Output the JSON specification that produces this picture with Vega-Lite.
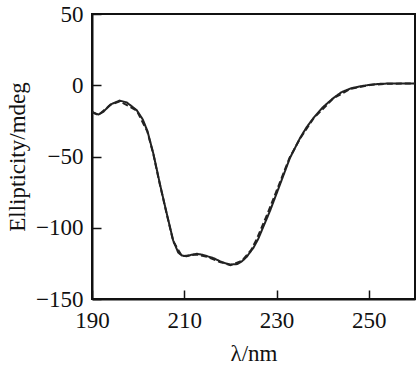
{
  "$schema": "https://vega.github.io/schema/vega-lite/v6.json",
  "autosize": {"type": "none"},
  "padding": {"left": 92, "top": 14, "right": 3, "bottom": 71},
  "width": 323,
  "height": 285,
  "background": "white",
  "config": {
    "view": {"stroke": "#111", "strokeWidth": 2},
    "axis": {
      "grid": false,
      "domainColor": "#111",
      "domainWidth": 2,
      "tickColor": "#111",
      "tickWidth": 1.5,
      "tickSize": -9,
      "labelFont": "Liberation Serif",
      "labelFontSize": 23,
      "labelColor": "#111",
      "titleFont": "Liberation Serif",
      "titleFontSize": 23,
      "titleFontWeight": "normal",
      "titleColor": "#111"
    }
  },
  "data": {
    "values": [
      {"wl": 190, "e": -18.5, "s": "a"},
      {"wl": 190.7, "e": -19.8, "s": "a"},
      {"wl": 191.4, "e": -20.5, "s": "a"},
      {"wl": 192.5, "e": -18.5, "s": "a"},
      {"wl": 194, "e": -13.5, "s": "a"},
      {"wl": 196, "e": -10.8, "s": "a"},
      {"wl": 197.5, "e": -12, "s": "a"},
      {"wl": 199.7, "e": -17.5, "s": "a"},
      {"wl": 201, "e": -24, "s": "a"},
      {"wl": 202, "e": -32, "s": "a"},
      {"wl": 203.3, "e": -48, "s": "a"},
      {"wl": 204.7, "e": -69, "s": "a"},
      {"wl": 206.2, "e": -90, "s": "a"},
      {"wl": 207.6, "e": -109, "s": "a"},
      {"wl": 208.7, "e": -117.5, "s": "a"},
      {"wl": 209.5, "e": -119.5, "s": "a"},
      {"wl": 210.5, "e": -120, "s": "a"},
      {"wl": 211.5, "e": -119, "s": "a"},
      {"wl": 212.7, "e": -118.3, "s": "a"},
      {"wl": 214, "e": -119, "s": "a"},
      {"wl": 215, "e": -120, "s": "a"},
      {"wl": 216.5, "e": -121.5, "s": "a"},
      {"wl": 217.7, "e": -123.5, "s": "a"},
      {"wl": 219, "e": -125, "s": "a"},
      {"wl": 220, "e": -125.8, "s": "a"},
      {"wl": 221.5, "e": -125.5, "s": "a"},
      {"wl": 222.5, "e": -123.5, "s": "a"},
      {"wl": 223.5, "e": -120.5, "s": "a"},
      {"wl": 225, "e": -114, "s": "a"},
      {"wl": 226, "e": -108, "s": "a"},
      {"wl": 227.3, "e": -98, "s": "a"},
      {"wl": 228.6, "e": -88, "s": "a"},
      {"wl": 230.7, "e": -70, "s": "a"},
      {"wl": 232.9, "e": -51, "s": "a"},
      {"wl": 235.1, "e": -37, "s": "a"},
      {"wl": 236.5, "e": -29.5, "s": "a"},
      {"wl": 238, "e": -23, "s": "a"},
      {"wl": 240, "e": -15.5, "s": "a"},
      {"wl": 242.3, "e": -9, "s": "a"},
      {"wl": 244, "e": -5, "s": "a"},
      {"wl": 246, "e": -2.3, "s": "a"},
      {"wl": 248, "e": -0.8, "s": "a"},
      {"wl": 250.2, "e": 0.3, "s": "a"},
      {"wl": 252, "e": 0.9, "s": "a"},
      {"wl": 254, "e": 1.2, "s": "a"},
      {"wl": 257, "e": 1.3, "s": "a"},
      {"wl": 260, "e": 1.3, "s": "a"},
      {"wl": 190, "e": -18.8, "s": "b"},
      {"wl": 191.4, "e": -20.8, "s": "b"},
      {"wl": 194, "e": -13.8, "s": "b"},
      {"wl": 196, "e": -11.2, "s": "b"},
      {"wl": 199.7, "e": -17.8, "s": "b"},
      {"wl": 202, "e": -32.5, "s": "b"},
      {"wl": 203.3, "e": -48.5, "s": "b"},
      {"wl": 204.7, "e": -69.5, "s": "b"},
      {"wl": 206.2, "e": -90.5, "s": "b"},
      {"wl": 207.6, "e": -109.5, "s": "b"},
      {"wl": 209.5, "e": -120, "s": "b"},
      {"wl": 212.7, "e": -118.8, "s": "b"},
      {"wl": 215, "e": -120.5, "s": "b"},
      {"wl": 217.7, "e": -124, "s": "b"},
      {"wl": 220, "e": -126.2, "s": "b"},
      {"wl": 222.5, "e": -123.2, "s": "b"},
      {"wl": 224.5, "e": -115.5, "s": "b"},
      {"wl": 225.7, "e": -108, "s": "b"},
      {"wl": 227.0, "e": -98, "s": "b"},
      {"wl": 228.3, "e": -88, "s": "b"},
      {"wl": 230.5, "e": -70, "s": "b"},
      {"wl": 232.8, "e": -51, "s": "b"},
      {"wl": 235.1, "e": -37.3, "s": "b"},
      {"wl": 238, "e": -23.3, "s": "b"},
      {"wl": 242.3, "e": -9.2, "s": "b"},
      {"wl": 246, "e": -2.5, "s": "b"},
      {"wl": 250.2, "e": 0.2, "s": "b"},
      {"wl": 254, "e": 1.1, "s": "b"},
      {"wl": 260, "e": 1.2, "s": "b"}
    ]
  },
  "mark": {"type": "line", "strokeWidth": 2, "color": "#222", "clip": true},
  "encoding": {
    "x": {
      "field": "wl", "type": "quantitative",
      "scale": {"domain": [190, 260], "nice": false, "zero": false},
      "axis": {"values": [190, 210, 230, 250], "title": "λ/nm", "labelPadding": 19, "titlePadding": 10, "labelFlush": false}
    },
    "y": {
      "field": "e", "type": "quantitative",
      "scale": {"domain": [-150, 50], "nice": false, "zero": false},
      "axis": {"values": [-150, -100, -50, 0, 50], "title": "Ellipticity/mdeg", "labelPadding": 18, "titlePadding": 6, "labelFlush": false}
    },
    "detail": {"field": "s", "type": "nominal"},
    "strokeDash": {
      "field": "s", "type": "nominal",
      "scale": {"domain": ["a", "b"], "range": [[1, 0], [6, 3]]},
      "legend": null
    }
  }
}
